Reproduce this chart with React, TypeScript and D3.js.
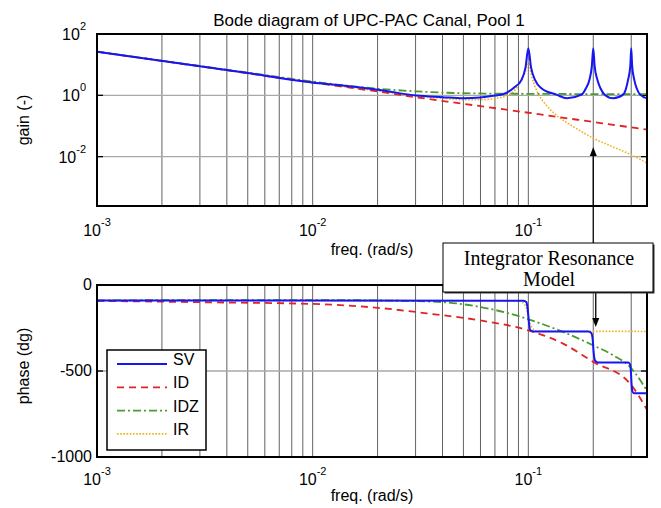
import React from 'react'
import * as d3 from 'd3'

// frequency response values (freq in rad/s)
const svGainFreq = [0.001, 0.005, 0.01, 0.012, 0.0205, 0.0303, 0.04, 0.05, 0.06, 0.07, 0.078, 0.086, 0.093, 0.097, 0.1, 0.103, 0.1074, 0.115, 0.135, 0.151, 0.1766, 0.185, 0.192, 0.197, 0.2, 0.203, 0.209, 0.216, 0.226, 0.2477, 0.275, 0.284, 0.29, 0.297, 0.3, 0.303, 0.31, 0.318, 0.33, 0.355]
const svGain = [26.6, 5.3, 2.6, 2.3, 1.5, 0.98, 0.87, 0.8, 0.85, 0.98, 1.15, 1.8, 3.2, 8, 34, 8, 3.2, 1.7, 1.05, 0.8, 1.05, 1.7, 3.2, 9, 34, 9, 3.2, 1.7, 1.05, 0.8, 1.05, 1.7, 3.2, 9, 34, 9, 3.2, 1.7, 1.05, 0.8]

const idGainFreq = [0.001, 0.003, 0.01, 0.0205, 0.03, 0.05, 0.1, 0.2, 0.355]
const idGain = [26.6, 8.8, 2.6, 1.3, 0.87, 0.53, 0.27, 0.135, 0.076]

const idzGainFreq = [0.001, 0.005, 0.01, 0.015, 0.02, 0.03, 0.05, 0.1, 0.2, 0.355]
const idzGain = [26.6, 5.5, 2.8, 2.0, 1.65, 1.35, 1.17, 1.12, 1.1, 1.1]

const irGainFreq = [0.001, 0.005, 0.01, 0.015, 0.0205, 0.03, 0.04, 0.05, 0.06, 0.0713, 0.085, 0.093, 0.097, 0.1, 0.103, 0.106, 0.111, 0.1216, 0.138, 0.16, 0.2, 0.25, 0.3, 0.355]
const irGain = [26.6, 5.3, 2.6, 1.8, 1.35, 0.95, 0.8, 0.72, 0.72, 0.8, 1.3, 3.2, 6, 12.6, 5, 2.5, 1.15, 0.46, 0.2, 0.1, 0.04, 0.02, 0.0115, 0.0062]

const svPhaseFreq = [0.001, 0.095, 0.098, 0.0995, 0.1, 0.1005, 0.102, 0.106, 0.19, 0.196, 0.1995, 0.2, 0.2005, 0.204, 0.21, 0.29, 0.296, 0.2995, 0.3, 0.3005, 0.304, 0.31, 0.355]
const svPhase = [-90, -91, -100, -150, -180, -210, -262, -270, -270, -280, -340, -360, -380, -440, -450, -450, -460, -520, -540, -560, -620, -630, -630]

const idPhaseFreq = [0.001, 0.003, 0.01, 0.0205, 0.035, 0.06, 0.1, 0.145, 0.2, 0.296, 0.355]
const idPhase = [-92, -100, -110, -134, -167, -206, -264, -341, -447, -573, -725]

const idzPhaseFreq = [0.001, 0.003, 0.012, 0.035, 0.06, 0.088, 0.109, 0.145, 0.2, 0.2477, 0.296, 0.355]
const idzPhase = [-90, -88, -88, -96, -128, -177, -215, -273, -351, -409, -476, -615]

const irPhaseFreq = [0.001, 0.09, 0.097, 0.1, 0.103, 0.11, 0.355]
const irPhase = [-90, -92, -120, -180, -240, -268, -270]

const freqTicks = [1e-3, 1e-2, 1e-1]
const gainTicks = [2, 0, -2] // exponents
const phaseTicks = [0, -500, -1000]

const left = 97, right = 647
const gainTop = 34, gainBottom = 206
const phaseTop = 285, phaseBottom = 457
const font = '"Liberation Sans", Arial, Helvetica, sans-serif'

const xScale = d3.scaleLog().domain([1e-3, 0.355]).range([left, right])
const gainScale = d3.scaleLog().domain([Math.pow(10, -3.61), 100]).range([gainBottom, gainTop])
const phaseScale = d3.scaleLinear().domain([-1000, 0]).range([phaseBottom, phaseTop])

const series = [
  { name: 'IR', color: '#f0b020', dash: '1.6,1.6', width: 1.6, gf: irGainFreq, g: irGain, pf: irPhaseFreq, p: irPhase },
  { name: 'IDZ', color: '#4a9a30', dash: '8,3,2,3', width: 1.8, gf: idzGainFreq, g: idzGain, pf: idzPhaseFreq, p: idzPhase },
  { name: 'ID', color: '#e02424', dash: '7,5', width: 1.8, gf: idGainFreq, g: idGain, pf: idPhaseFreq, p: idPhase },
  { name: 'SV', color: '#1515f5', dash: null, width: 2, gf: svGainFreq, g: svGain, pf: svPhaseFreq, p: svPhase },
]
const legendOrder = ['SV', 'ID', 'IDZ', 'IR']

// minor grid positions 2..9 per decade
const gridFreqs: number[] = []
for (let e = -3; e <= -1; e++) {
  for (let m = 1; m <= 9; m++) {
    const f = m * Math.pow(10, e)
    if (f > 1e-3 && f < 0.355) gridFreqs.push(f)
  }
}

function Pow10({ x, y, exp, anchor }: { x: number, y: number, exp: number, anchor: string }) {
  return (
    <text x={x} y={y} textAnchor={anchor} fontSize={16} fontFamily={font}>
      <tspan>10</tspan>
      <tspan dy={-10} fontSize={11}>{exp}</tspan>
    </text>
  )
}

function Frame({ top, bottom, clip, hLines, yTicks }: { top: number, bottom: number, clip: string, hLines: number[], yTicks: number[] }) {
  return (
    <g>
      <clipPath id={clip}><rect x={left} y={top} width={right - left} height={bottom - top} /></clipPath>
      <rect x={left} y={top} width={right - left} height={bottom - top} fill="white" />
      {gridFreqs.map((f, i) => (
        <line key={'v' + i} x1={xScale(f)} x2={xScale(f)} y1={top} y2={bottom} stroke="#3a3a3a" strokeWidth={0.8} />
      ))}
      {hLines.map((y, i) => (
        <line key={'h' + i} x1={left} x2={right} y1={y} y2={y} stroke="#a8a8a8" strokeWidth={1.3} />
      ))}
      {yTicks.map((y, i) => (
        <g key={'t' + i}>
          <line x1={left} x2={left + 6} y1={y} y2={y} stroke="black" strokeWidth={1.3} />
          <line x1={right - 6} x2={right} y1={y} y2={y} stroke="black" strokeWidth={1.3} />
        </g>
      ))}
    </g>
  )
}

export default function App() {
  const gainLine = d3.line<[number, number]>()
    .x(d => xScale(d[0])).y(d => gainScale(d[1])).curve(d3.curveMonotoneX)
  const phaseLine = d3.line<[number, number]>()
    .x(d => xScale(d[0])).y(d => phaseScale(d[1])).curve(d3.curveMonotoneX)

  const arrowX = xScale(0.2)

  return (
    <svg width={661} height={508} style={{ position: 'absolute', left: 0, top: 0, background: 'white' }}>
      <text x={(left + right) / 2 - 3} y={26} textAnchor="middle" fontSize={17} fontFamily={font}>
        Bode diagram of UPC-PAC Canal, Pool 1
      </text>

      {/* gain */}
      <Frame top={gainTop} bottom={gainBottom} clip="clipGain"
        hLines={[gainScale(1), gainScale(0.01)]}
        yTicks={gainTicks.map(e => gainScale(Math.pow(10, e)))} />
      <g clipPath="url(#clipGain)">
        {series.map(s => (
          <path key={s.name} d={gainLine(s.gf.map((f, i) => [f, s.g[i]] as [number, number])) || ''}
            fill="none" stroke={s.color} strokeWidth={s.width} strokeDasharray={s.dash || undefined} />
        ))}
      </g>
      <rect x={left} y={gainTop} width={right - left} height={gainBottom - gainTop} fill="none" stroke="black" strokeWidth={2} />
      {gainTicks.map(e => (
        <Pow10 key={e} x={86} y={gainScale(Math.pow(10, e)) + 6} exp={e} anchor="end" />
      ))}
      {freqTicks.map(f => (
        <Pow10 key={f} x={xScale(f)} y={gainBottom + 30} exp={Math.round(Math.log10(f))} anchor="middle" />
      ))}
      <text x={(left + right) / 2} y={255} textAnchor="middle" fontSize={16} fontFamily={font}>freq. (rad/s)</text>
      <text transform={`translate(29,${(gainTop + gainBottom) / 2}) rotate(-90)`} textAnchor="middle" fontSize={16} fontFamily={font}>gain (-)</text>

      {/* phase */}
      <Frame top={phaseTop} bottom={phaseBottom} clip="clipPhase"
        hLines={[phaseScale(-500)]}
        yTicks={phaseTicks.map(v => phaseScale(v))} />
      <g clipPath="url(#clipPhase)">
        {series.map(s => (
          <path key={s.name} d={phaseLine(s.pf.map((f, i) => [f, s.p[i]] as [number, number])) || ''}
            fill="none" stroke={s.color} strokeWidth={s.width} strokeDasharray={s.dash || undefined} />
        ))}
      </g>
      <rect x={left} y={phaseTop} width={right - left} height={phaseBottom - phaseTop} fill="none" stroke="black" strokeWidth={2} />
      {phaseTicks.map(v => (
        <text key={v} x={92} y={phaseScale(v) + 5} textAnchor="end" fontSize={16} fontFamily={font}>{v}</text>
      ))}
      {freqTicks.map(f => (
        <Pow10 key={f} x={xScale(f)} y={phaseBottom + 28} exp={Math.round(Math.log10(f))} anchor="middle" />
      ))}
      <text x={(left + right) / 2} y={501} textAnchor="middle" fontSize={16} fontFamily={font}>freq. (rad/s)</text>
      <text transform={`translate(29,366) rotate(-90)`} textAnchor="middle" fontSize={16} fontFamily={font}>phase (dg)</text>

      {/* legend */}
      <g>
        <rect x={107} y={350} width={99} height={100} fill="white" stroke="black" strokeWidth={1.5} />
        {legendOrder.map((name, i) => {
          const s = series.find(d => d.name === name)!
          const y = 364 + i * 23.3
          return (
            <g key={name}>
              <line x1={117} x2={167} y1={y} y2={y} stroke={s.color} strokeWidth={s.width} strokeDasharray={s.dash || undefined} />
              <text x={173} y={y + 1} fontSize={16} fontFamily={font}>{name}</text>
            </g>
          )
        })}
      </g>

      {/* annotation */}
      <line x1={arrowX} x2={arrowX} y1={243} y2={155} stroke="black" strokeWidth={1.3} />
      <path d={`M${arrowX},147 L${arrowX - 3.5},156 L${arrowX + 3.5},156 Z`} fill="black" />
      <line x1={arrowX + 2.5} x2={arrowX + 2.5} y1={292} y2={319} stroke="black" strokeWidth={1.3} />
      <path d={`M${arrowX + 2.5},327 L${arrowX - 1},318 L${arrowX + 6},318 Z`} fill="black" />
      <rect x={444.5} y={244.5} width={210} height={49} fill="#333" />
      <rect x={443} y={243} width={210} height={49} fill="white" stroke="black" strokeWidth={1} />
      <text x={549} y={265} textAnchor="middle" fontSize={20} fontFamily='"Liberation Serif", "Times New Roman", serif'>Integrator Resonance</text>
      <text x={549} y={286} textAnchor="middle" fontSize={20} fontFamily='"Liberation Serif", "Times New Roman", serif'>Model</text>
    </svg>
  )
}
